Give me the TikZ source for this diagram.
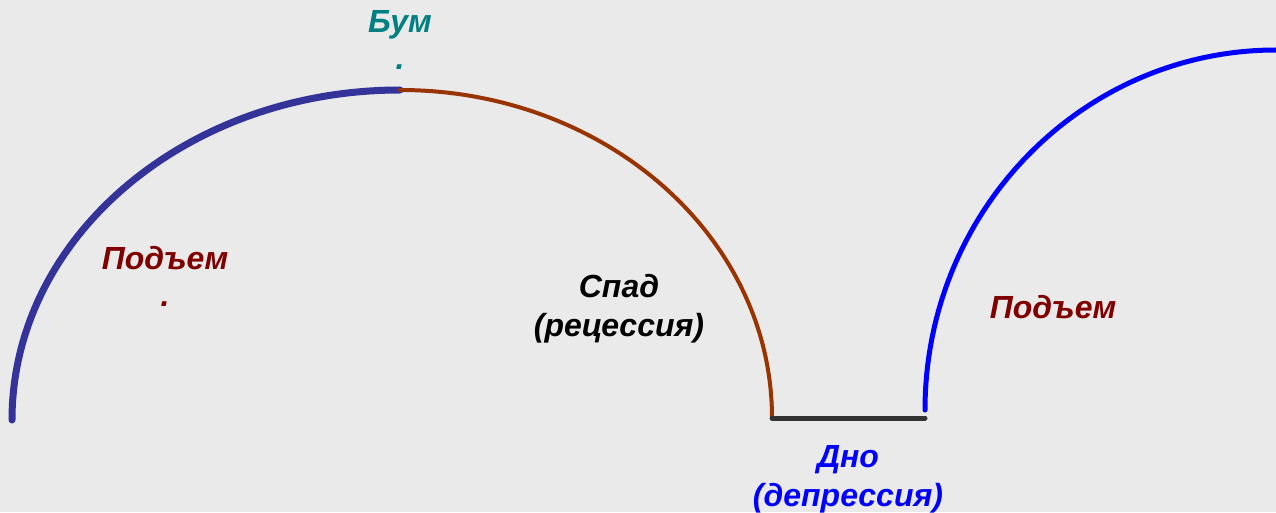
\documentclass[tikz,border=0pt]{standalone}
\usepackage{fontspec}
\setmainfont{Liberation Sans}
\definecolor{bg}{HTML}{EAEAEA}
\definecolor{indigoarc}{HTML}{333399}
\definecolor{brownarc}{HTML}{993300}
\definecolor{bottomline}{HTML}{333333}
\definecolor{bluearc}{HTML}{0000FF}
\definecolor{boomteal}{HTML}{008080}
\definecolor{risered}{HTML}{800000}
\begin{document}
\begin{tikzpicture}[x=1pt,y=1pt,
  lbl/.style={font=\fontsize{32}{39}\selectfont\bfseries\itshape, align=center, inner sep=0pt},
  curve/.style={line cap=round}]
\useasboundingbox (0,0) rectangle (1276,512);
\fill[bg] (0,0) rectangle (1276,512);
\coordinate (s) at (12,92);
\coordinate (boom) at (400,422);
\coordinate (bl) at (772,94);
\coordinate (br) at (925,94);
\coordinate (bs) at (925,102);
% arcs
\draw[curve, indigoarc, line width=7] (s) arc[start angle=180, end angle=90, x radius=388, y radius=330];
\draw[curve, brownarc, line width=4] (boom) arc[start angle=90, end angle=0, x radius=372, y radius=328];
\draw[curve, bottomline, line width=5] (bl) -- (br);
\draw[curve, bluearc, line width=5] (bs) arc[start angle=180, end angle=90, x radius=351, y radius=360];
% labels
\node[lbl, text=boomteal] (boomlbl) at (400,487) {Бум};
\node[lbl, text=boomteal, anchor=base] (boomdot) at (400,442) {.};
\node[lbl, text=risered] (rise1) at (165,254) {Подъем};
\node[lbl, text=risered, anchor=base] (risedot) at (165,206) {.};
\node[lbl, text=black] (fall) at (619,203) {Спад\\(рецессия)};
\node[lbl, text=risered] (rise2) at (1053,205) {Подъем};
\node[lbl, text=bluearc] (trough) at (848,33) {Дно\\(депрессия)};
\end{tikzpicture}
\end{document}
